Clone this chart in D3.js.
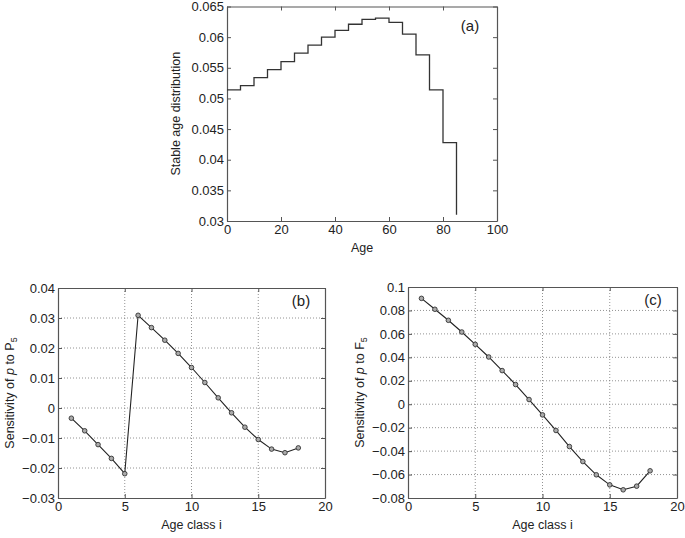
<!DOCTYPE html>
<html>
<head>
<meta charset="utf-8">
<script src="https://cdn.jsdelivr.net/npm/d3@7"></script>
<style>
  body { margin: 0; background: #fff; }
  text { font-family: "Liberation Sans", Arial, sans-serif; fill: #222; }
</style>
</head>
<body>
<div id="chart"></div>
<script>
// panel (a): stable age distribution, 5-year age classes starting at 0
const ageStarts = [0, 5, 10, 15, 20, 25, 30, 35, 40, 45, 50, 55, 60, 65, 70, 75, 80, 85]
const stableDist = [0.0514, 0.0521, 0.0534, 0.0547, 0.0560, 0.0574, 0.0587, 0.0600, 0.0611,
  0.0621, 0.0629, 0.0631, 0.0624, 0.0605, 0.0571, 0.0514, 0.0428, 0.0310]
// panels (b) and (c): sensitivities per age class
const ageClass = [1, 2, 3, 4, 5, 6, 7, 8, 9, 10, 11, 12, 13, 14, 15, 16, 17, 18]
const sensP5 = [-0.0034, -0.0076, -0.0122, -0.0168, -0.0219, 0.0309, 0.0268, 0.0226, 0.0182,
  0.0135, 0.0085, 0.0034, -0.0016, -0.0064, -0.0105, -0.0137, -0.0149, -0.0133]
const sensF5 = [0.0903, 0.0810, 0.0716, 0.0616, 0.0511, 0.0403, 0.0287, 0.0168, 0.0040,
  -0.0091, -0.0224, -0.0361, -0.0489, -0.0602, -0.0688, -0.0730, -0.0699, -0.0568]

const xTicksA = [0, 20, 40, 60, 80, 100]
const yTicksA = [0.03, 0.035, 0.04, 0.045, 0.05, 0.055, 0.06, 0.065]
const xTicksBC = [0, 5, 10, 15, 20]
const yTicksB = [-0.03, -0.02, -0.01, 0, 0.01, 0.02, 0.03, 0.04]
const yTicksC = [-0.08, -0.06, -0.04, -0.02, 0, 0.02, 0.04, 0.06, 0.08, 0.1]

const svg = d3.select("#chart").append("svg")
  .attr("width", 685)
  .attr("height", 538)

const fmt = d => d === 0 ? "0" : String(+d.toFixed(3)).replace("-", "\u2212")

// draws a framed MATLAB-style axes box, returns scales and group
function panel(box, xDom, yDom, xTicks, yTicks, grid) {
  const x = d3.scaleLinear().domain(xDom).range([box.x0, box.x1])
  const y = d3.scaleLinear().domain(yDom).range([box.y1, box.y0])
  const g = svg.append("g")

  if (grid) {
    g.append("g").selectAll("line").data(xTicks.slice(1, -1)).join("line")
      .attr("x1", d => x(d)).attr("x2", d => x(d))
      .attr("y1", box.y0).attr("y2", box.y1)
      .attr("stroke", "#777").attr("stroke-width", 0.8).attr("stroke-dasharray", "1,2")
    g.append("g").selectAll("line").data(yTicks.slice(1, -1)).join("line")
      .attr("y1", d => y(d)).attr("y2", d => y(d))
      .attr("x1", box.x0).attr("x2", box.x1)
      .attr("stroke", "#777").attr("stroke-width", 0.8).attr("stroke-dasharray", "1,2")
  }

  const styleAxis = a => {
    a.selectAll("path, line").attr("stroke", "#555")
    a.selectAll("text").style("font-size", "13px").attr("fill", "#222")
  }
  g.append("g").attr("transform", `translate(0,${box.y1})`)
    .call(d3.axisBottom(x).tickValues(xTicks).tickFormat(fmt).tickSize(-4).tickSizeOuter(0).tickPadding(4))
    .call(styleAxis)
  g.append("g").attr("transform", `translate(${box.x0},0)`)
    .call(d3.axisLeft(y).tickValues(yTicks).tickFormat(fmt).tickSize(-4).tickSizeOuter(0).tickPadding(3))
    .call(styleAxis)
  g.append("g").attr("transform", `translate(0,${box.y0})`)
    .call(d3.axisTop(x).tickValues(xTicks).tickFormat("").tickSize(-4).tickSizeOuter(0))
    .call(styleAxis)
  g.append("g").attr("transform", `translate(${box.x1},0)`)
    .call(d3.axisRight(y).tickValues(yTicks).tickFormat("").tickSize(-4).tickSizeOuter(0))
    .call(styleAxis)
  g.selectAll(".domain").attr("stroke-width", 1.2)
  return { x, y, g }
}

// (a)
const boxA = { x0: 227, x1: 497, y0: 6.5, y1: 221 }
const pa = panel(boxA, [0, 100], [0.03, 0.065], xTicksA, yTicksA, false)
const stepLine = d3.line().x(d => pa.x(d[0])).y(d => pa.y(d[1])).curve(d3.curveStepAfter)
pa.g.append("path")
  .datum(ageStarts.map((a, i) => [a, stableDist[i]]))
  .attr("d", stepLine)
  .attr("fill", "none").attr("stroke", "#333").attr("stroke-width", 1.3)
pa.g.append("text").attr("x", 470).attr("y", 31).attr("text-anchor", "middle")
  .style("font-size", "15px").text("(a)")
pa.g.append("text").attr("x", 362).attr("y", 252).attr("text-anchor", "middle")
  .style("font-size", "12.5px").text("Age")
pa.g.append("text").attr("transform", `translate(180,${(boxA.y0 + boxA.y1) / 2}) rotate(-90)`)
  .attr("text-anchor", "middle").style("font-size", "12.5px").text("Stable age distribution")

// (b) and (c)
function sensPanel(box, yDom, yTicks, values, tag, sub, labelX) {
  const p = panel(box, [0, 20], yDom, xTicksBC, yTicks, true)
  const line = d3.line().x((d, i) => p.x(ageClass[i])).y(d => p.y(d))
  p.g.append("path").datum(values).attr("d", line)
    .attr("fill", "none").attr("stroke", "#222").attr("stroke-width", 1.1)
  p.g.append("g").selectAll("circle").data(values).join("circle")
    .attr("cx", (d, i) => p.x(ageClass[i])).attr("cy", d => p.y(d)).attr("r", 2.3)
    .attr("fill", "#aaa").attr("stroke", "#333").attr("stroke-width", 0.9)
  p.g.append("text").attr("x", box.x1 - 24).attr("y", box.y0 + 18).attr("text-anchor", "middle")
    .style("font-size", "15px").text(tag)
  p.g.append("text").attr("x", (box.x0 + box.x1) / 2).attr("y", box.y1 + 31).attr("text-anchor", "middle")
    .style("font-size", "12.5px").text("Age class i")
  const t = p.g.append("text")
    .attr("transform", `translate(${labelX},${(box.y0 + box.y1) / 2}) rotate(-90)`)
    .attr("text-anchor", "middle").style("font-size", "12.5px")
  t.append("tspan").text("Sensitivity of ")
  t.append("tspan").style("font-style", "italic").text("p")
  t.append("tspan").text(" to " + sub[0])
  t.append("tspan").attr("dy", 3).style("font-size", "9px").text(sub[1])
}

sensPanel({ x0: 58, x1: 325, y0: 288, y1: 498 }, [-0.03, 0.04], yTicksB, sensP5, "(b)", ["P", "5"], 14)
sensPanel({ x0: 408, x1: 677, y0: 287, y1: 498 }, [-0.08, 0.1], yTicksC, sensF5, "(c)", ["F", "5"], 364)
</script>
</body>
</html>
